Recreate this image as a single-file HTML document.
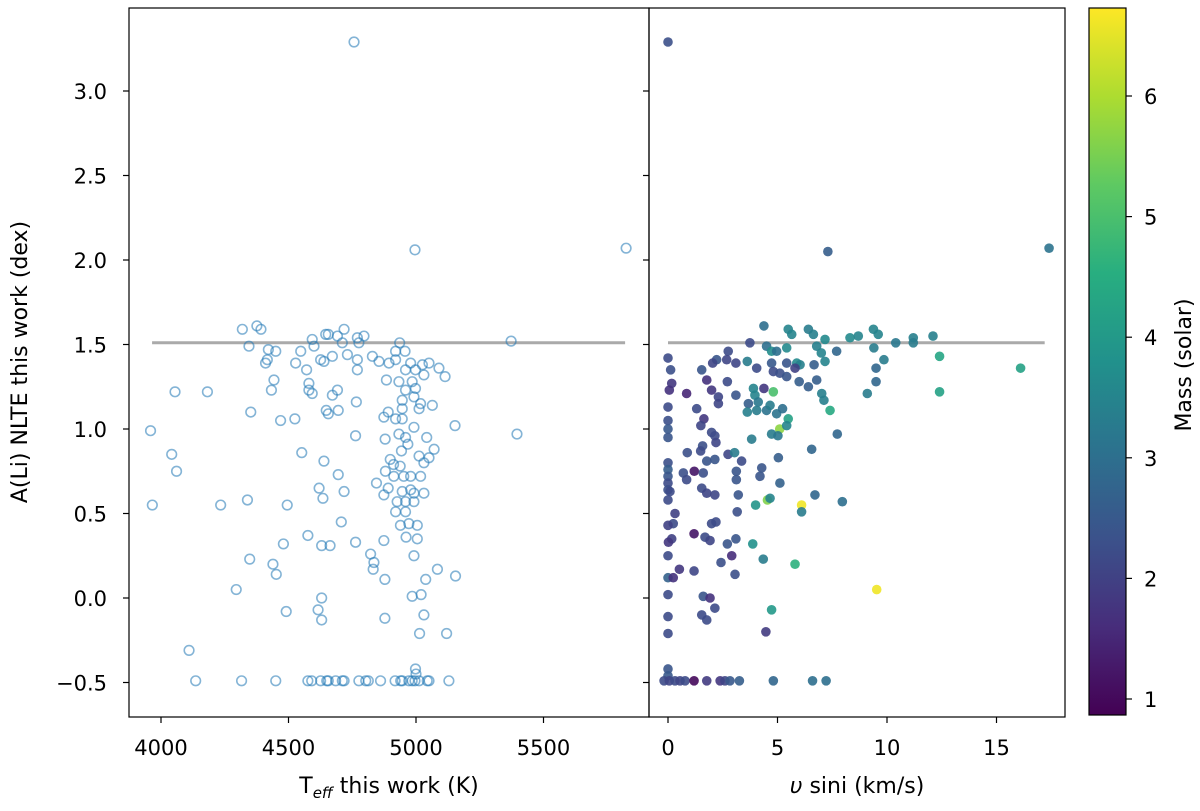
<!DOCTYPE html>
<html><head><meta charset="utf-8"><style>
body{margin:0;background:#fff;}
svg text{font-family:"DejaVu Sans","Liberation Sans",sans-serif;fill:#000;}
</style></head><body>
<svg id="chart" width="1200" height="806" xmlns="http://www.w3.org/2000/svg">
<defs>
<linearGradient id="vir" x1="0" y1="1" x2="0" y2="0">
<stop offset="0" stop-color="#440154"/><stop offset="0.125" stop-color="#472d7b"/><stop offset="0.25" stop-color="#3b528b"/><stop offset="0.375" stop-color="#2c728e"/><stop offset="0.5" stop-color="#21918c"/><stop offset="0.625" stop-color="#28ae80"/><stop offset="0.75" stop-color="#5ec962"/><stop offset="0.875" stop-color="#addc30"/><stop offset="1" stop-color="#fde725"/>
</linearGradient>
</defs>
</svg>
<script>
// Left panel data: Teff (K) and A(Li)
const teff=[4757,4996,5824,4319,4376,4392,4345,4421,4450,4417,4410,4548,4528,4571,4593,4600,4646,4656,4692,4718,4711,4770,4796,4776,4626,4639,4672,4731,4770,4770,4829,4855,4894,4920,4936,4920,4957,4979,4959,4998,5025,5051,5031,5090,5114,4884,4933,4985,4959,4998,4443,4433,4580,4580,4593,4672,4692,4766,4946,4992,5018,5064,4946,5012,4648,4695,4656,4352,4469,4525,4055,4182,3959,4891,4874,4920,4946,5153,5373,5396,4763,4879,4933,4959,4992,5042,4968,5071,4943,5012,5051,5031,4899,4912,4938,4042,4061,4552,4639,4695,4620,4635,4718,4880,4913,4952,4979,5018,4845,4891,4874,4946,4979,4992,5031,4926,4959,4992,4920,4959,4939,4972,5005,4961,5005,3966,4234,4339,4495,4707,4576,4480,4630,4663,4763,4874,4822,4835,4832,4992,4878,5038,5084,5155,4348,4439,4452,4295,4630,4616,4630,4491,4878,4985,5020,5031,5014,5120,4110,4998,5000,4136,4316,4450,4576,4591,4626,4650,4656,4685,4711,4718,4776,4803,4813,4861,4918,4940,4946,4972,4985,4996,5012,5044,5051,5129];
const aliLeft=[3.29,2.06,2.07,1.59,1.61,1.59,1.49,1.47,1.46,1.41,1.39,1.46,1.39,1.35,1.53,1.49,1.56,1.56,1.55,1.59,1.51,1.54,1.55,1.51,1.41,1.40,1.43,1.44,1.41,1.35,1.43,1.40,1.39,1.41,1.51,1.46,1.46,1.39,1.35,1.35,1.38,1.39,1.32,1.36,1.31,1.29,1.28,1.28,1.23,1.24,1.29,1.23,1.27,1.23,1.21,1.20,1.23,1.16,1.17,1.19,1.15,1.14,1.12,1.12,1.11,1.11,1.09,1.10,1.05,1.06,1.22,1.22,0.99,1.10,1.07,1.06,1.06,1.02,1.52,0.97,0.96,0.94,0.97,0.95,1.01,0.95,0.91,0.88,0.87,0.84,0.83,0.80,0.82,0.79,0.78,0.85,0.75,0.86,0.81,0.73,0.65,0.59,0.63,0.75,0.72,0.72,0.72,0.72,0.68,0.65,0.61,0.63,0.64,0.62,0.62,0.57,0.57,0.57,0.51,0.51,0.43,0.44,0.43,0.36,0.35,0.55,0.55,0.58,0.55,0.45,0.37,0.32,0.31,0.31,0.33,0.34,0.26,0.21,0.17,0.25,0.11,0.11,0.17,0.13,0.23,0.20,0.14,0.05,0.00,-0.07,-0.13,-0.08,-0.12,0.01,0.02,-0.10,-0.21,-0.21,-0.31,-0.42,-0.45,-0.49,-0.49,-0.49,-0.49,-0.49,-0.49,-0.49,-0.49,-0.49,-0.49,-0.49,-0.49,-0.49,-0.49,-0.49,-0.49,-0.49,-0.49,-0.49,-0.49,-0.49,-0.49,-0.49,-0.49,-0.49];
// Right panel data: vsini (km/s), A(Li), mass (solar)
const vsini=[0,7.3,17.4,4.38,5.49,5.65,6.41,6.64,7.17,8.31,8.69,9.38,9.6,11.2,12.1,10.4,11.2,9.4,9.86,12.4,16.1,12.4,9.5,9.5,9.1,3.74,4.5,4.73,5.42,4.96,6.79,7.0,7.17,7.7,4.73,5.42,5.88,6.03,6.67,4.81,5.11,5.42,5.8,5.99,6.41,6.79,7.02,7.12,7.4,7.73,6.56,3.62,4.05,2.75,2.68,3.1,2.22,2.04,1.54,1.77,2.71,0.85,1.99,2.3,2.3,3.1,3.9,3.97,4.38,4.81,3.67,4.12,3.62,4.05,4.5,4.66,4.96,5.23,5.49,5.1,5.42,4.73,5.02,3.82,5.04,5.11,6.71,7.96,6.1,6.1,4.54,4.66,4.0,4.28,4.2,0,0.12,0.17,0.06,1.31,1.64,1.5,0,0,0,0,1.99,2.14,2.19,1.58,1.49,0.88,2.74,3.04,3.36,1.77,2.14,3.12,3.12,0,0,0,0,0,0,0.09,0.7,1.2,0.85,1.61,1.54,1.77,2.14,3.21,3.16,0.32,0.24,0,1.99,2.19,1.19,1.69,1.92,3.1,2.71,0.17,0.02,0,2.91,3.87,4.35,2.42,5.8,3.06,0.52,1.19,0,0.24,0,1.61,1.92,2.14,1.54,1.77,9.53,4.73,4.47,0,0,0,0,-0.18,0.06,0.32,0.55,0.78,1.19,1.77,2.38,2.6,2.83,3.26,4.81,6.6,7.22];
const aliRight=[3.29,2.05,2.07,1.61,1.59,1.56,1.59,1.56,1.53,1.54,1.55,1.59,1.56,1.54,1.55,1.51,1.51,1.48,1.41,1.43,1.36,1.22,1.36,1.28,1.21,1.51,1.49,1.46,1.48,1.46,1.49,1.45,1.40,1.46,1.39,1.39,1.39,1.38,1.38,1.34,1.33,1.31,1.36,1.28,1.25,1.29,1.21,1.17,1.11,0.97,0.88,1.40,1.36,1.46,1.41,1.39,1.41,1.39,1.35,1.29,1.28,1.21,1.23,1.19,1.15,1.20,1.24,1.20,1.24,1.22,1.15,1.16,1.10,1.11,1.11,1.14,1.09,1.12,1.06,1.00,1.02,0.97,0.96,0.94,0.83,0.68,0.61,0.57,0.55,0.51,0.58,0.59,0.55,0.77,0.72,1.42,1.35,1.27,1.23,1.12,1.06,1.02,1.13,1.05,1.00,0.95,0.98,0.96,0.92,0.90,0.87,0.86,0.85,0.86,0.81,0.81,0.82,0.75,0.70,0.80,0.76,0.72,0.68,0.64,0.58,0.63,0.74,0.75,0.70,0.74,0.65,0.62,0.61,0.61,0.51,0.50,0.44,0.43,0.44,0.45,0.38,0.36,0.34,0.35,0.32,0.35,0.33,0.25,0.25,0.32,0.23,0.21,0.20,0.14,0.17,0.16,0.12,0.12,0.02,0.01,0.00,-0.06,-0.10,-0.13,0.05,-0.07,-0.20,-0.11,-0.21,-0.42,-0.46,-0.49,-0.49,-0.49,-0.49,-0.49,-0.49,-0.49,-0.49,-0.49,-0.49,-0.49,-0.49,-0.49,-0.49];
const mass=[2.3,2.6,3.1,3.0,3.5,3.5,3.3,3.4,3.6,3.6,3.5,3.5,3.5,3.4,3.4,3.2,3.3,3.3,3.3,4.3,4.2,4.2,2.8,2.8,3.3,2.2,3.0,3.7,3.6,3.0,3.4,3.5,3.5,2.8,2.5,2.4,3.6,3.4,2.6,2.2,2.3,2.4,2.0,2.6,2.6,2.6,3.4,3.4,4.4,2.8,2.8,3.3,2.2,2.2,2.1,2.1,2.4,2.1,2.4,1.7,2.2,1.5,1.8,2.1,2.1,2.4,3.5,3.5,1.8,5.0,2.6,3.2,3.4,3.3,3.1,3.3,3.1,3.0,4.2,5.7,3.5,3.3,3.2,3.3,2.6,2.7,2.8,3.0,6.6,3.3,5.6,3.5,3.9,2.4,2.4,2.2,2.3,1.8,1.7,2.2,1.8,2.1,2.2,2.3,2.5,2.4,2.2,2.2,2.1,2.3,2.2,2.3,2.1,3.3,2.2,2.4,2.4,2.4,2.4,2.3,2.6,2.4,2.2,2.3,2.2,2.2,2.3,1.2,2.2,2.3,2.2,2.1,2.1,2.4,2.3,2.0,2.2,2.0,2.2,2.2,1.2,2.2,2.1,2.4,2.4,2.0,1.8,2.2,1.6,3.8,3.3,2.3,4.6,2.3,1.8,2.1,2.7,1.7,2.2,2.4,1.7,2.2,2.2,2.2,6.6,4.0,1.9,2.2,2.2,2.4,2.5,2.2,2.1,2.2,2.1,2.2,1.0,1.9,1.8,2.1,2.5,2.6,2.8,3.0,3.0];
const yTicks=[-0.5,0.0,0.5,1.0,1.5,2.0,2.5,3.0];
const teffTicks=[4000,4500,5000,5500];
const vTicks=[0,5,10,15];
const massTicks=[1,2,3,4,5,6];
const limit=1.51;

const NS="http://www.w3.org/2000/svg";
const svg=document.getElementById('chart');
function el(tag,attrs,parent){const e=document.createElementNS(NS,tag);for(const k in attrs)e.setAttribute(k,attrs[k]);(parent||svg).appendChild(e);return e;}
const top_=8,bot=717;
const yS=v=>598-169*v;
const xL=t=>161+(t-4000)*0.255;
const xR=v=>668+21.9*v;
const L0=129,L1=649,R1=1065;
const stops=[[68,1,84],[71,45,123],[59,82,139],[44,114,142],[33,145,140],[40,174,128],[94,201,98],[173,220,48],[253,231,37]];
const mMin=0.87,mMax=6.73;
function vir(m){let t=Math.max(0,Math.min(1,(m-mMin)/(mMax-mMin)))*8;const i=Math.min(7,Math.floor(t)),f=t-i;const a=stops[i],b=stops[i+1];return `rgb(${a.map((c,k)=>Math.round(c+(b[k]-c)*f)).join(',')})`;}

const ll=el('line',{x1:xL(3965),x2:xL(5820),y1:yS(limit),y2:yS(limit),stroke:'#aaa','stroke-width':3});

const lr=el('line',{x1:xR(0),x2:xR(17.2),y1:yS(limit),y2:yS(limit),stroke:'#aaa','stroke-width':3});


const gl=el('g',{});
teff.forEach((t,i)=>{const c=el('circle',{cx:xL(t),cy:yS(aliLeft[i]),r:4.8,fill:'none',stroke:'#1f77b4','stroke-opacity':0.55,'stroke-width':1.6},gl);

});
const gr=el('g',{});
vsini.forEach((v,i)=>{const c=el('circle',{cx:xR(v),cy:yS(aliRight[i]),r:4.8,fill:vir(mass[i]),'fill-opacity':0.9},gr);

});

const f1=el('rect',{x:L0,y:top_,width:L1-L0,height:bot-top_,fill:'none',stroke:'#000','stroke-width':1.2});

const f2=el('rect',{x:L1,y:top_,width:R1-L1,height:bot-top_,fill:'none',stroke:'#000','stroke-width':1.2});


yTicks.forEach(v=>{const y=yS(v);
el('line',{x1:L0-6,x2:L0,y1:y,y2:y,stroke:'#000','stroke-width':1.2});
el('line',{x1:L1-6,x2:L1,y1:y,y2:y,stroke:'#000','stroke-width':1.2});
const t=el('text',{x:107,y:y+8,'text-anchor':'end','font-size':21});t.textContent=v.toFixed(1).replace('-','−');
});
teffTicks.forEach(v=>{const x=xL(v);el('line',{x1:x,x2:x,y1:bot,y2:bot+6,stroke:'#000','stroke-width':1.2});
const t=el('text',{x:x,y:755,'text-anchor':'middle','font-size':21});t.textContent=v;
});
vTicks.forEach(v=>{const x=xR(v);el('line',{x1:x,x2:x,y1:bot,y2:bot+6,stroke:'#000','stroke-width':1.2});
const t=el('text',{x:x,y:755,'text-anchor':'middle','font-size':21});t.textContent=v;
});

const yt=el('text',{x:0,y:0,'text-anchor':'middle','font-size':22,transform:'translate(27,362) rotate(-90)'});yt.textContent='A(Li) NLTE this work (dex)';

const xt=el('text',{x:389,y:793,'text-anchor':'middle','font-size':22});xt.innerHTML='T<tspan font-size="15" dy="5" font-style="italic">eff</tspan><tspan dy="-5"> this work (K)</tspan>';

const vt=el('text',{x:857,y:793,'text-anchor':'middle','font-size':22});vt.innerHTML='<tspan font-style="italic">υ</tspan> sini (km/s)';


const cbY=m=>96+(6-m)*120.6;
const cb=el('rect',{x:1089,y:top_,width:37,height:bot-2-top_,fill:'url(#vir)',stroke:'#000','stroke-width':1.2});

massTicks.forEach(m=>{const y=cbY(m);el('line',{x1:1126,x2:1132,y1:y,y2:y,stroke:'#000','stroke-width':1.2});
const t=el('text',{x:1144,y:y+8,'font-size':21});t.textContent=m;
});
const ct=el('text',{x:0,y:0,'text-anchor':'middle','font-size':22,transform:'translate(1191,365) rotate(-90)'});ct.textContent='Mass (solar)';

</script>
</body></html>
